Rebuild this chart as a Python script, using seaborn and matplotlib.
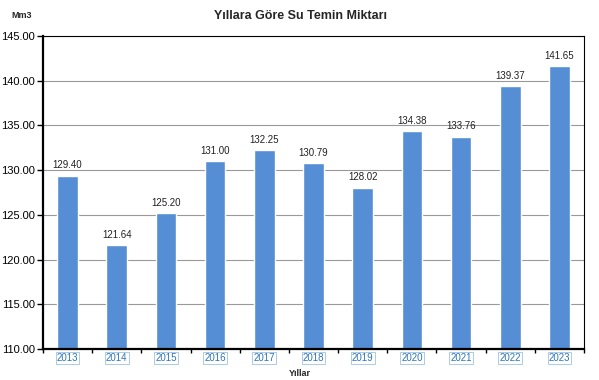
import matplotlib
matplotlib.use("Agg")
import matplotlib.pyplot as plt
import seaborn as sns
import pandas as pd

years = ["2013", "2014", "2015", "2016", "2017", "2018", "2019", "2020", "2021", "2022", "2023"]
values = [129.40, 121.64, 125.20, 131.00, 132.25, 130.79, 128.02, 134.38, 133.76, 139.37, 141.65]
yticks = [110, 115, 120, 125, 130, 135, 140, 145]

sns.set_theme(style="white")
plt.rcParams['font.family'] = ['Liberation Sans', 'DejaVu Sans']

df = pd.DataFrame({"Yıl": years, "Değer": values})

fig = plt.figure(figsize=(5.99, 3.80), dpi=100)
ax = fig.add_axes([43/599, 1 - 349/380, (584-43)/599, (349-36)/380])

sns.barplot(data=df, x="Yıl", y="Değer", color="#558ED5", width=0.42, ax=ax, saturation=1)

ax.set_ylim(110, 145)
ax.set_yticks(yticks)
ax.set_yticklabels([f"{v:.2f}" for v in yticks], fontsize=8, color="black")
ax.yaxis.grid(True, color="#999999", linewidth=0.8)
ax.set_axisbelow(True)

for i, v in enumerate(values):
    ax.text(i, v + 0.6, f"{v:.2f}", ha="center", va="bottom", fontsize=7, color="#222222")

for s in ["top", "right"]:
    ax.spines[s].set_visible(True)
    ax.spines[s].set_color("black")
    ax.spines[s].set_linewidth(0.8)
for s in ["left", "bottom"]:
    ax.spines[s].set_color("black")
    ax.spines[s].set_linewidth(1.6)

ax.tick_params(axis="y", which="both", left=True, length=4, width=1, color="black", pad=2)
ax.tick_params(axis="x", which="major", bottom=False, length=0, pad=3)
ax.set_xticks(range(len(years)))
ax.set_xticklabels(years, fontsize=7, color="#2E75B6")
for lbl in ax.get_xticklabels():
    lbl.set_bbox(dict(facecolor="white", edgecolor="#9DC3E6", linewidth=0.6, pad=0.8))
# boundary ticks between categories
ax.set_xticks([i + 0.5 for i in range(-1, len(years))], minor=True)
ax.tick_params(axis="x", which="minor", bottom=True, length=3, width=1, color="black")

ax.set_xlabel("")
ax.set_ylabel("")
ax.set_xlim(-0.5, len(years) - 0.5)

fig.text(300/599, 1 - 373/380, "Yıllar", ha="center", va="center", fontsize=6.5, fontweight="bold")
fig.text(22/599, 1 - 16/380, "Mm3", ha="center", va="center", fontsize=6.5, fontweight="bold")
fig.text(300/599, 1 - 16/380, "Yıllara Göre Su Temin Miktarı", ha="center", va="center", fontsize=9, fontweight="bold")

fig.savefig("out.png", dpi=100, facecolor="white")
